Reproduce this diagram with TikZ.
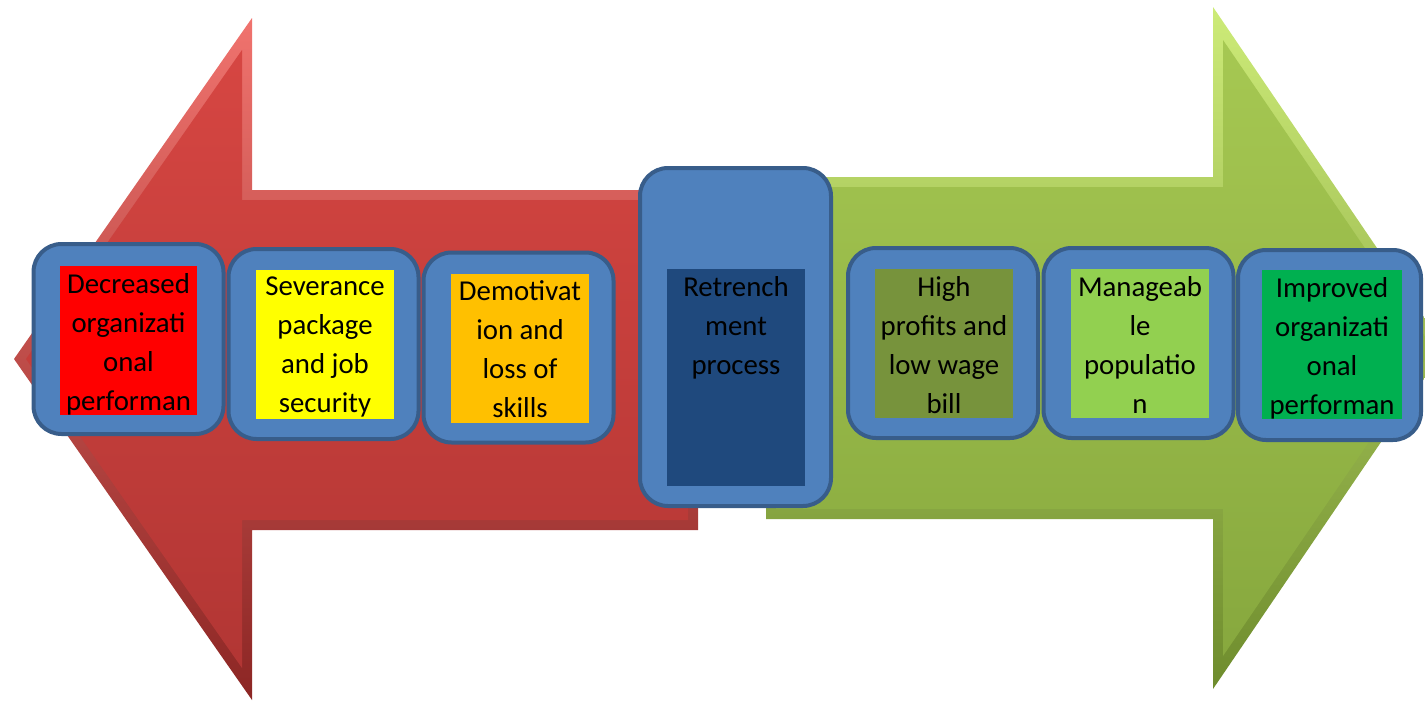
\documentclass[tikz,border=0pt]{standalone}
\usepackage{fontspec}
\setmainfont{Carlito}
\usepackage{tikz}
\usepackage{xcolor}

\definecolor{redrimtop}{RGB}{240,115,110}
\definecolor{redrimbot}{RGB}{140,38,36}
\definecolor{redtop}{RGB}{214,70,66}
\definecolor{redbot}{RGB}{178,54,52}
\definecolor{greenrimtop}{RGB}{205,235,120}
\definecolor{greenrimbot}{RGB}{110,140,45}
\definecolor{greentop}{RGB}{166,200,82}
\definecolor{greenbot}{RGB}{135,168,62}
\definecolor{boxblue}{RGB}{79,129,189}
\definecolor{boxedge}{RGB}{56,93,138}
\definecolor{cred}{RGB}{255,0,0}
\definecolor{cyellow}{RGB}{255,255,0}
\definecolor{corange}{RGB}{255,192,0}
\definecolor{cnavy}{RGB}{31,73,125}
\definecolor{colive}{RGB}{119,147,60}
\definecolor{clime}{RGB}{146,208,80}
\definecolor{cgreen}{RGB}{0,176,80}

\tikzset{
    box/.style={draw=boxedge,fill=boxblue,line width=2pt,rounded corners=14pt,inner sep=0pt,minimum width=95pt,minimum height=95pt},
    inbox/.style={inner sep=0pt,minimum width=69pt,minimum height=74.5pt},
    txt/.style={anchor=north,align=center,inner sep=0pt,yshift=-3.5pt,font=\fontsize{14.4pt}{19.5pt}\selectfont}
}

\begin{document}
\begin{tikzpicture}[x=0.5pt,y=-0.5pt]
        \useasboundingbox (0,0) rectangle (1425,702);
        \clip (0,0) rectangle (1425,702);
        % the two big arrows, rim first and then the inner face
        \shade[top color=redrimtop,bottom color=redrimbot] (14,359) -- (252,18) -- (252,190) -- (698,190) -- (698,530) -- (252,530) -- (252,700) -- cycle;
        \shade[top color=redtop,bottom color=redbot] (26,359) -- (242,50) -- (242,200) -- (688,200) -- (688,520) -- (242,520) -- (242,668) -- cycle;
        \shade[top color=greenrimtop,bottom color=greenrimbot] (766,177) -- (1213,177) -- (1213,7) -- (1445,348) -- (1213,689) -- (1213,519) -- (766,519) -- cycle;
        \shade[top color=greentop,bottom color=greenbot] (776,187) -- (1223,187) -- (1223,40) -- (1433,348) -- (1223,656) -- (1223,509) -- (776,509) -- cycle;
        % left side
        \node[box] (b1) at (128.5,339) {};
        \node[inbox,fill=cred,minimum width=68.5pt] (i1) at (128.5,340.5) {};
        \node[txt] (t1) at (i1.north) {Decreased\\organizati\\onal\\performan};
        \node[box] (b2) at (323.5,344) {};
        \node[inbox,fill=cyellow] (i2) at (325,344.5) {};
        \node[txt] (t2) at (i2.north) {Severance\\package\\and job\\security};
        \node[box] (b3) at (518.5,347.5) {};
        \node[inbox,fill=corange] (i3) at (520,348.5) {};
        \node[txt] (t3) at (i3.north) {Demotivat\\ion and\\loss of\\skills};
        % middle
        \node[box,minimum width=95.5pt,minimum height=169pt] (b4) at (735.5,337) {};
        \node[inbox,fill=cnavy,minimum height=108.5pt] (i4) at (736,377.5) {};
        \node[txt] (t4) at (i4.north) {Retrench\\ment\\process};
        % right side
        \node[box] (b5) at (943,343) {};
        \node[inbox,fill=colive] (i5) at (944,343.5) {};
        \node[txt] (t5) at (i5.north) {High\\profits and\\low wage\\bill};
        \node[box] (b6) at (1138.5,343) {};
        \node[inbox,fill=clime] (i6) at (1140,343.5) {};
        \node[txt] (t6) at (i6.north) {Manageab\\le\\populatio\\n};
        \node[box,minimum width=91.5pt] (b7) at (1329.5,345) {};
        \node[inbox,fill=cgreen,minimum width=70pt] (i7) at (1332,344.5) {};
        \node[txt] (t7) at (i7.north) {Improved\\organizati\\onal\\performan};
\end{tikzpicture}
\end{document}
